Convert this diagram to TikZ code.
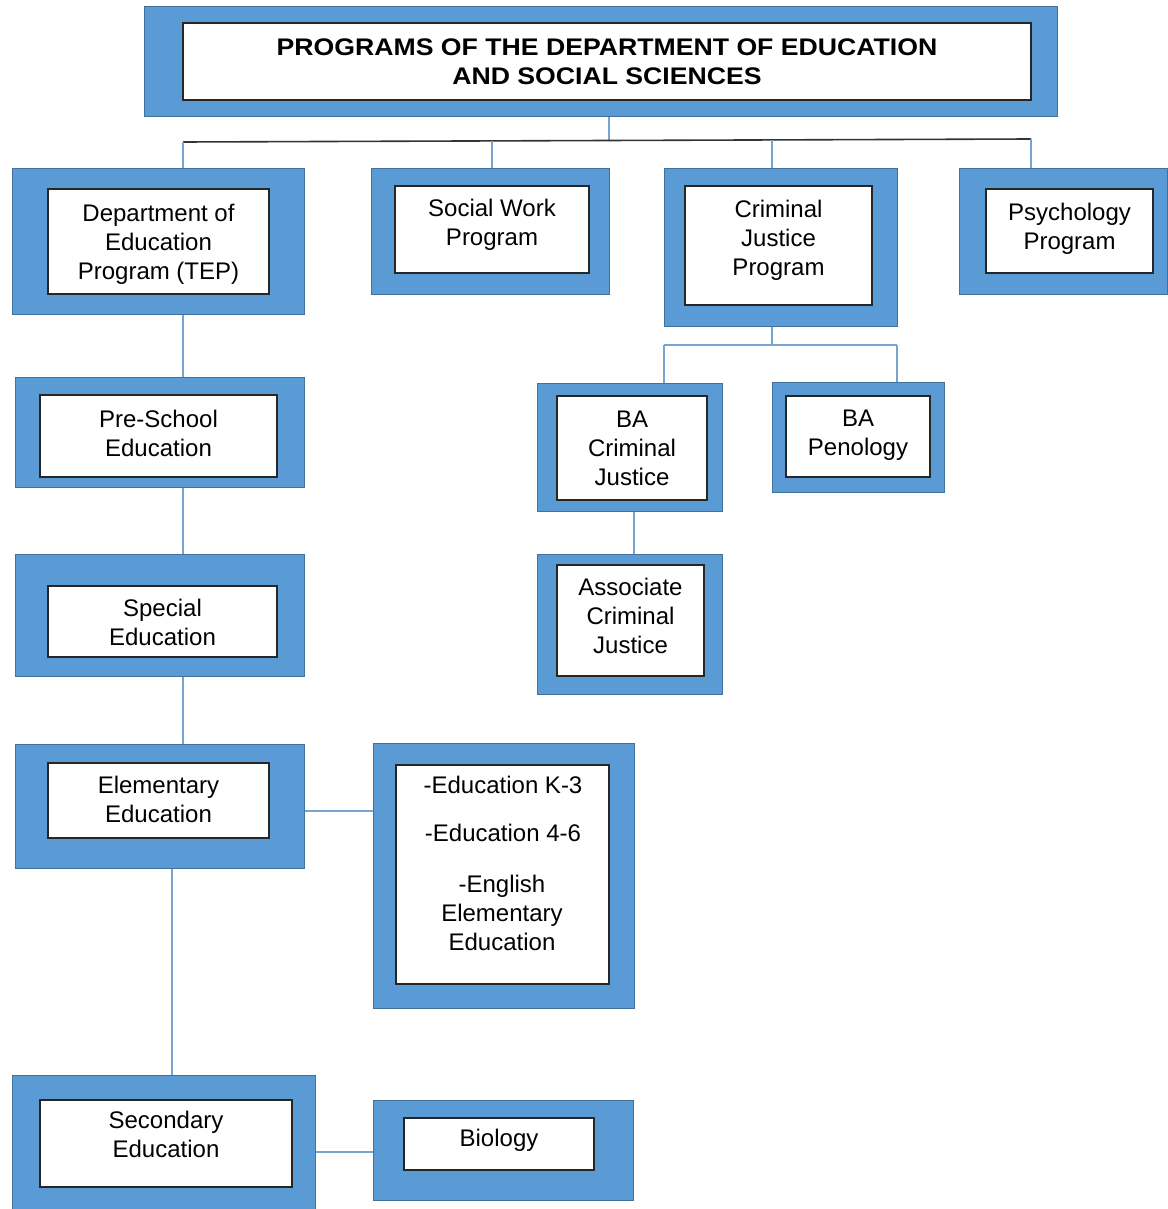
\documentclass[tikz,border=0pt]{standalone}
\usepackage{fontspec}
\setmainfont{Liberation Sans}
\usetikzlibrary{fit}
\definecolor{boxblue}{RGB}{91,155,213}
\definecolor{boxedge}{RGB}{65,113,156}
\definecolor{connblue}{RGB}{120,165,205}
\tikzset{
  outerbox/.style={draw=boxedge, line width=1pt, fill=boxblue, inner sep=0pt},
  innerbox/.style={draw=black!85, line width=1.6pt, fill=white, inner sep=0pt},
  label text/.style={align=center, font=\fontsize{24}{29}\selectfont, inner sep=0pt},
  conn/.style={draw=connblue, line width=1.3pt},
  busline/.style={draw=black!80, line width=1.6pt}
}
\newcommand{\boxpair}[9]{%
  \node[outerbox, fit={(#2,#3)(#4,#5)}] (#1O) {};
  \node[innerbox, fit={(#6,#7)(#8,#9)}] (#1) {};
}
\begin{document}
\begin{tikzpicture}[x=1pt,y=-1pt]
\useasboundingbox (0,0) rectangle (1167,1209);
% boxes
\boxpair{title}{144}{7}{1057}{117}{183}{23}{1031}{100}
\node[inner sep=0pt, font=\bfseries\fontsize{24}{29}\selectfont] (titletext) at ([yshift=-3]title.center)
  {\scalebox{1.11}[1]{\begin{tabular}{@{}c@{}}PROGRAMS OF THE DEPARTMENT OF EDUCATION\\AND SOCIAL SCIENCES\end{tabular}}};
\boxpair{tep}{12}{169}{304}{314}{48}{189}{269}{294}
\node[label text] (teptext) at ([yshift=-3]tep.center) {Department of\\Education\\Program (TEP)};
\boxpair{sw}{371}{169}{609}{294}{395}{186}{589}{273}
\node[label text] (swtext) at ([yshift=5]sw.center) {Social Work\\Program};
\boxpair{cj}{664}{169}{897}{326}{685}{186}{872}{305}
\node[label text] (cjtext) at ([yshift=5]cj.center) {Criminal\\Justice\\Program};
\boxpair{psy}{959}{169}{1167}{294}{986}{189}{1153}{273}
\node[label text] (psytext) at ([yshift=2.5]psy.center) {Psychology\\Program};
\boxpair{pre}{15}{377}{304}{487}{40}{395}{277}{477}
\node[label text] (pretext) at ([yshift=3]pre.center) {Pre-School\\Education};
\boxpair{spec}{15}{554}{304}{676}{48}{586}{277}{657}
\node[label text] (spectext) at ([yshift=-1]spec.center) {Special\\Education};
\boxpair{elem}{15}{744}{304}{868}{48}{763}{269}{838}
\node[label text] (elemtext) at ([yshift=1.5]elem.center) {Elementary\\Education};
\boxpair{list}{373}{743}{634}{1008}{396}{765}{609}{984}
\node[label text] (listtext1) at (503,785) {-Education K-3};
\node[label text] (listtext2) at (503,833) {-Education 4-6};
\node[label text] (listtext3) at (502,913) {-English\\Elementary\\Education};
\boxpair{sec}{12}{1075}{315}{1209}{40}{1100}{292}{1187}
\node[label text] (sectext) at ([yshift=9.5]sec.center) {Secondary\\Education};
\boxpair{bio}{373}{1100}{633}{1200}{404}{1118}{594}{1170}
\node[label text] (biotext) at ([yshift=4]bio.center) {Biology};
\boxpair{bacj}{537}{383}{722}{511}{557}{396}{707}{500}
\node[label text] (bacjtext) at ([yshift=0]bacj.center) {BA\\Criminal\\Justice};
\boxpair{pen}{772}{382}{944}{492}{786}{396}{930}{477}
\node[label text] (pentext) at ([yshift=1]pen.center) {BA\\Penology};
\boxpair{assoc}{537}{554}{722}{694}{557}{565}{704}{676}
\node[label text] (assoctext) at ([yshift=5]assoc.center) {Associate\\Criminal\\Justice};
% connector coordinates
\coordinate (busL) at (183,142);
\coordinate (busR) at (1031,139);
\coordinate (busM) at (609,140.5);
\coordinate (b2) at (492,141);
\coordinate (b3) at (772,140);
\coordinate (cjL) at (664,345);
\coordinate (cjR) at (897,345);
\coordinate (cjM) at (772,345);
\coordinate (colA) at (183,0);
\coordinate (colB) at (172,0);
\coordinate (colC) at (634,0);
\coordinate (rowA) at (0,811);
\coordinate (rowB) at (0,1152);
% top bus
\draw[conn] (titleO.south -| busM) -- (busM);
\draw[busline] (busL) -- (busR);
\draw[conn] (busL) -- (busL |- tepO.north);
\draw[conn] (b2) -- (b2 |- swO.north);
\draw[conn] (b3) -- (b3 |- cjO.north);
\draw[conn] (busR) -- (busR |- psyO.north);
% criminal justice
\draw[conn] (cjO.south -| cjM) -- (cjM);
\draw[conn] (cjL |- cjM) -- (cjR);
\draw[conn] (cjL) -- (cjL |- bacjO.north);
\draw[conn] (cjR) -- (cjR |- penO.north);
\draw[conn] (bacjO.south -| colC) -- (assocO.north -| colC);
% education column
\draw[conn] (tepO.south -| colA) -- (preO.north -| colA);
\draw[conn] (preO.south -| colA) -- (specO.north -| colA);
\draw[conn] (specO.south -| colA) -- (elemO.north -| colA);
\draw[conn] (elemO.south -| colB) -- (secO.north -| colB);
\draw[conn] (elemO.east |- rowA) -- (listO.west |- rowA);
\draw[conn] (secO.east |- rowB) -- (bioO.west |- rowB);
\end{tikzpicture}
\end{document}
